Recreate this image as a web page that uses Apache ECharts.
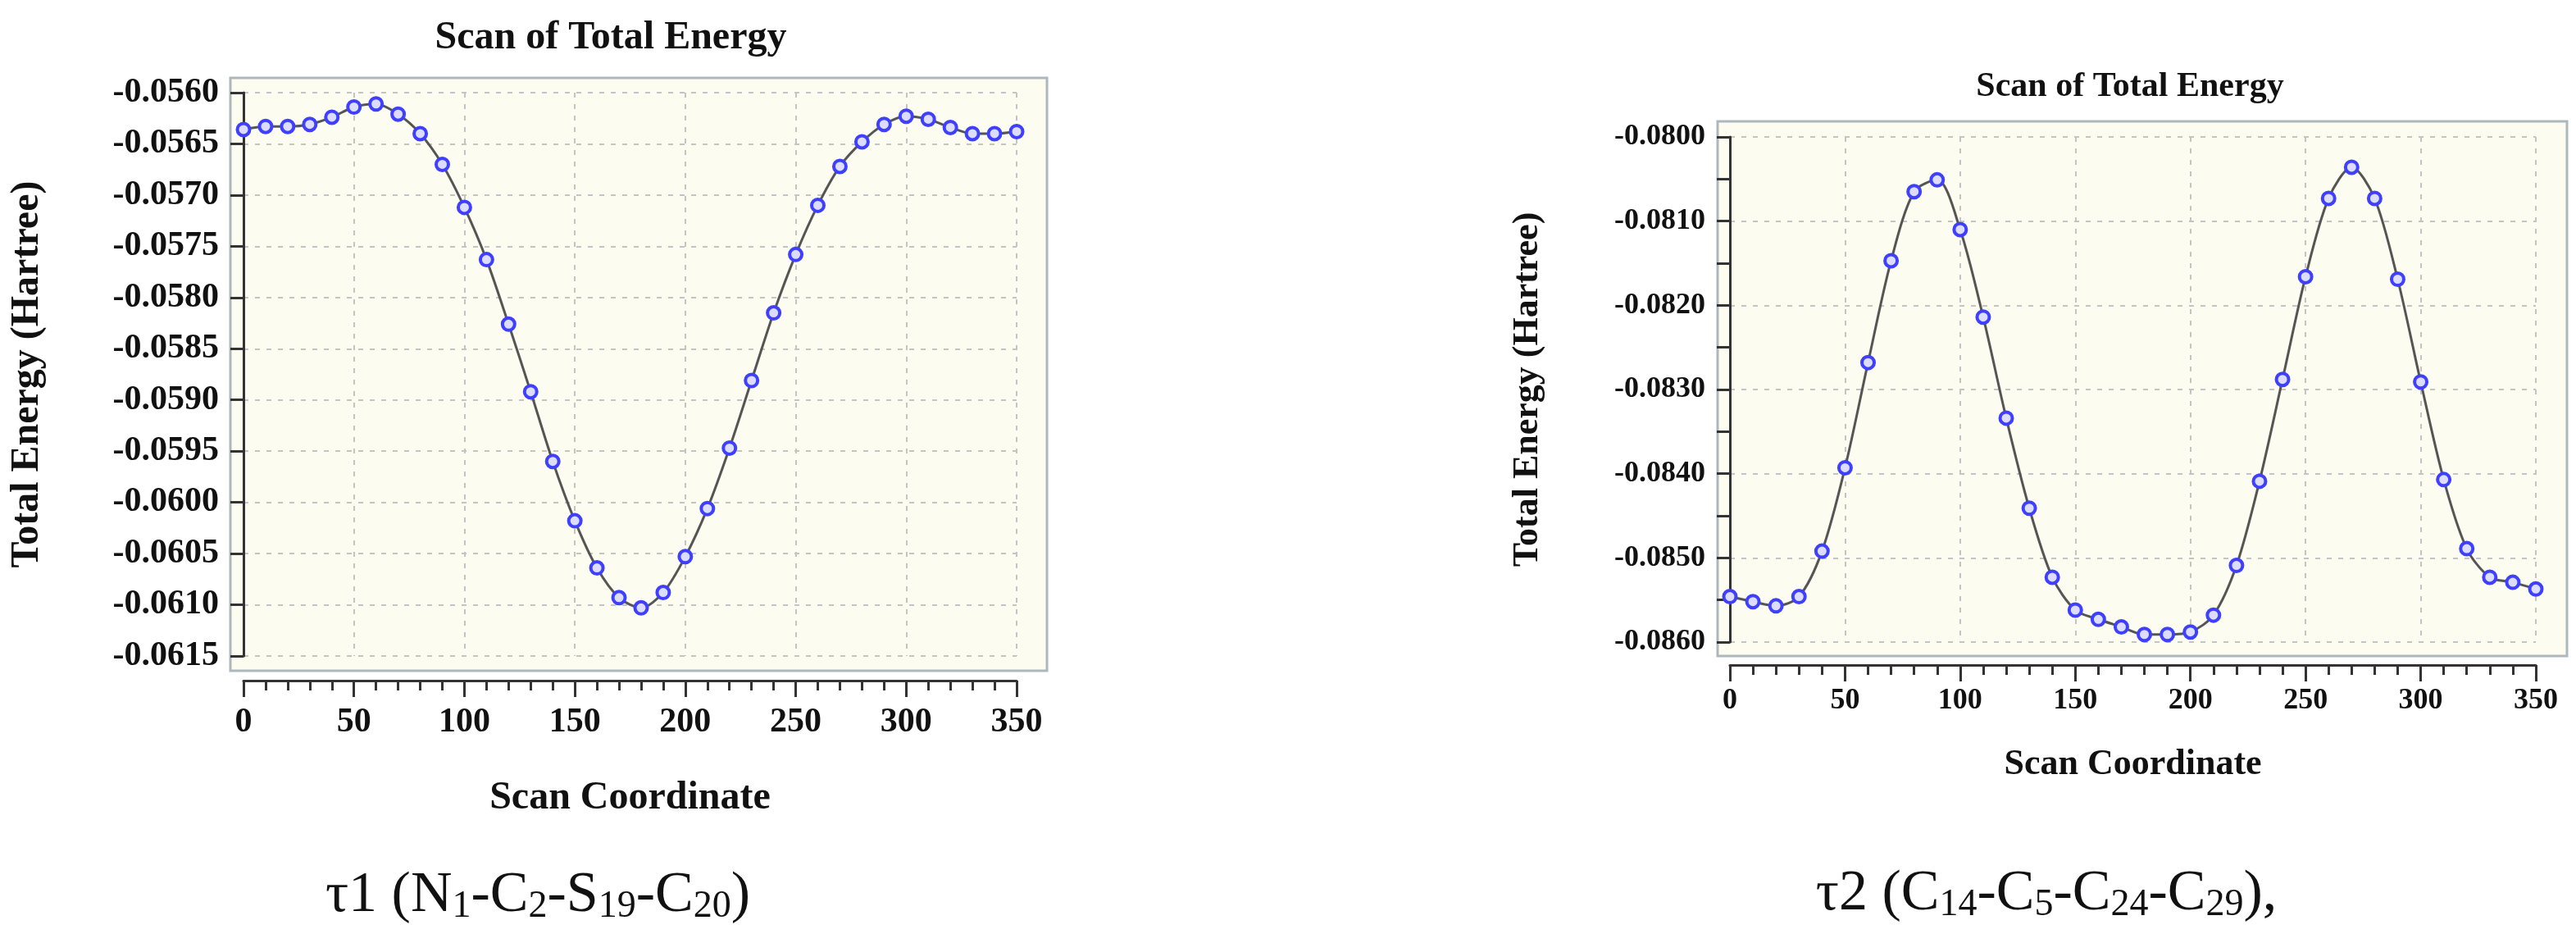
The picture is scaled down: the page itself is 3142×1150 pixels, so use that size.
<!DOCTYPE html>
<html>
<head>
<meta charset="utf-8">
<script src="https://cdn.jsdelivr.net/npm/echarts@6/dist/echarts.min.js"></script>
<style>html,body{margin:0;padding:0;background:#fff}#main{width:3142px;height:1150px}</style>
</head>
<body>
<div id="main"></div>
<script>
// scan coordinate (degrees)
var scanCoord = [0,10,20,30,40,50,60,70,80,90,100,110,120,130,140,150,160,170,180,190,200,210,220,230,240,250,260,270,280,290,300,310,320,330,340,350];
// tau1 energies (Hartree)
var energyT1 = [-0.05636,-0.05633,-0.05633,-0.05631,-0.05624,-0.05614,-0.05611,-0.05621,-0.05640,-0.05670,-0.05712,-0.05763,-0.05826,-0.05892,-0.05960,-0.06018,-0.06064,-0.06093,-0.06103,-0.06088,-0.06053,-0.06006,-0.05947,-0.05881,-0.05815,-0.05758,-0.05710,-0.05672,-0.05648,-0.05631,-0.05623,-0.05626,-0.05634,-0.05640,-0.05640,-0.05638];
// tau2 energies (Hartree)
var energyT2 = [-0.08546,-0.08552,-0.08557,-0.08546,-0.08492,-0.08393,-0.08268,-0.08147,-0.08065,-0.08051,-0.08110,-0.08214,-0.08334,-0.08441,-0.08523,-0.08562,-0.08573,-0.08582,-0.08591,-0.08591,-0.08588,-0.08568,-0.08509,-0.08409,-0.08288,-0.08166,-0.08073,-0.08036,-0.08073,-0.08169,-0.08291,-0.08407,-0.08489,-0.08523,-0.08529,-0.08537];

var chart = echarts.init(document.getElementById('main'));
var serif = 'Liberation Serif';

function pairs(ys) { return scanCoord.map(function (x, i) { return [x, ys[i]]; }); }

function xAx(gi, off, fs, labMargin, nameGap, nfs) {
    return {
        type: 'value', gridIndex: gi, min: 0, max: 350, interval: 50, offset: off,
        axisLine: { show: true, lineStyle: { color: '#333', width: 3 } },
        axisTick: { show: true, inside: false, length: 20, lineStyle: { color: '#333', width: 3 } },
        minorTick: { show: true, splitNumber: 5, length: 12, lineStyle: { color: '#333', width: 3 } },
        axisLabel: { color: '#111', fontFamily: serif, fontWeight: 'bold', fontSize: fs, margin: labMargin },
        splitLine: { show: true, lineStyle: { color: '#c4c4c4', type: [6, 8], width: 2 } },
        name: 'Scan Coordinate', nameLocation: 'middle', nameGap: nameGap,
        nameTextStyle: { color: '#111', fontFamily: serif, fontWeight: 'bold', fontSize: nfs }
    };
}
function yAx(gi, min, max, interval, off, fs, minor, nameGap, nfs) {
    return {
        type: 'value', gridIndex: gi, min: min, max: max, interval: interval, offset: off,
        axisLine: { show: true, lineStyle: { color: '#333', width: 3 } },
        axisTick: { show: true, length: 16, lineStyle: { color: '#333', width: 3 } },
        minorTick: { show: minor, splitNumber: 2, length: 16, lineStyle: { color: '#333', width: 3 } },
        axisLabel: { color: '#111', fontFamily: serif, fontWeight: 'bold', fontSize: fs, margin: 6,
            formatter: function (v) { return v.toFixed(4); } },
        splitLine: { show: true, lineStyle: { color: '#c4c4c4', type: [6, 8], width: 2 } },
        name: 'Total Energy (Hartree)', nameLocation: 'middle', nameGap: nameGap,
        nameTextStyle: { color: '#111', fontFamily: serif, fontWeight: 'bold', fontSize: nfs }
    };
}
function hid(gi) { return { type: 'value', gridIndex: gi, show: false }; }

var sub = { fontFamily: serif, fontWeight: 'normal', fontSize: 46, color: '#111', verticalAlign: 'bottom', lineHeight: 72 };
var big = { fontFamily: serif, fontWeight: 'normal', fontSize: 70, color: '#111', lineHeight: 72 };

var option = {
    backgroundColor: '#fff',
    title: [
        { text: 'Scan of Total Energy', left: 740, top: 18, textAlign: 'center',
          textStyle: { fontFamily: serif, fontWeight: 'bold', fontSize: 48, color: '#111' } },
        { text: 'Scan of Total Energy', left: 2593, top: 80, textAlign: 'center',
          textStyle: { fontFamily: serif, fontWeight: 'bold', fontSize: 42, color: '#111' } },
        { text: '{b|τ1 (N}{s|1}{b|-C}{s|2}{b|-S}{s|19}{b|-C}{s|20}{b|)}', left: 651, top: 1052, textAlign: 'center',
          textStyle: { fontWeight: 'normal', rich: { b: big, s: sub } } },
        { text: '{b|τ2 (C}{s|14}{b|-C}{s|5}{b|-C}{s|24}{b|-C}{s|29}{b|),}', left: 2491, top: 1050, textAlign: 'center',
          textStyle: { fontWeight: 'normal', rich: { b: big, s: sub } } }
    ],
    grid: [
        // plot boxes
        { left: 281, width: 996, top: 95, height: 723, show: true, backgroundColor: '#fcfcf0', borderColor: '#aeb8bc', borderWidth: 3, z: -1 },
        { left: 2095, width: 1036, top: 148, height: 652, show: true, backgroundColor: '#fcfcf0', borderColor: '#aeb8bc', borderWidth: 3, z: -1 },
        // data areas
        { left: 297, width: 943, top: 113, height: 687 },
        { left: 2110, width: 983, top: 167, height: 616 }
    ],
    xAxis: [hid(0), hid(1), xAx(2, 30, 42, 30, 120, 48), xAx(3, 28, 36, 26, 100, 44)],
    yAxis: [hid(0), hid(1),
        yAx(2, -0.0615, -0.0560, 0.0005, 24, 42, false, 215, 48),
        yAx(3, -0.0860, -0.0800, 0.0010, 24, 36, true, 200, 44)],
    series: [
        { type: 'line', xAxisIndex: 2, yAxisIndex: 2, data: pairs(energyT1), smooth: 0.3,
          symbol: 'circle', symbolSize: 15, lineStyle: { color: '#555', width: 3 },
          itemStyle: { color: '#dcdcff', borderColor: '#3f3fff', borderWidth: 4 } },
        { type: 'line', xAxisIndex: 3, yAxisIndex: 3, data: pairs(energyT2), smooth: 0.3,
          symbol: 'circle', symbolSize: 15, lineStyle: { color: '#555', width: 3 },
          itemStyle: { color: '#dcdcff', borderColor: '#3f3fff', borderWidth: 4 } }
    ]
};
chart.setOption(option);
</script>
</body>
</html>
